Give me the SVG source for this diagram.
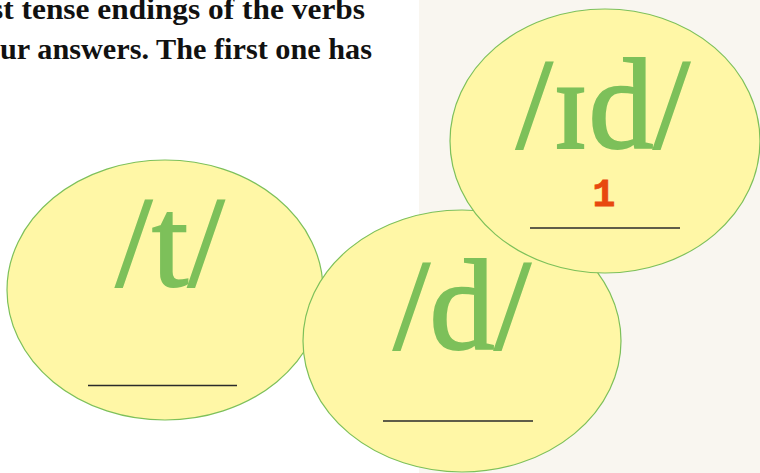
<svg xmlns="http://www.w3.org/2000/svg" width="760" height="473" viewBox="0 0 760 473">
  <style>
    .bubble { fill: #fff7a6; stroke: #7dc05a; stroke-width: 1.2; }
    .ipa { font-family: "Liberation Serif", "Times New Roman", serif; font-size: 130px; fill: #7dc05a; stroke: #7dc05a; stroke-width: 2; text-anchor: middle; }
    .blank { stroke: #2a2a2a; stroke-width: 1.4; }
    .head { font-family: "Liberation Serif", "Times New Roman", serif; font-weight: bold; font-size: 30px; fill: #111; }
    .ans { font-family: "Liberation Mono", "Courier New", monospace; font-weight: bold; font-size: 38px; fill: #e8480f; stroke: #e8480f; stroke-width: 0.8; text-anchor: middle; }
  </style>
  <rect x="0" y="0" width="760" height="473" fill="#ffffff"/>
  <rect x="419" y="0" width="341" height="473" fill="#f9f6f0"/>
  <g id="heading">
    <text class="head" x="-9" y="19" textLength="374" lengthAdjust="spacingAndGlyphs">st tense endings of the verbs</text>
    <text class="head" x="0" y="59" textLength="372" lengthAdjust="spacingAndGlyphs">ur answers. The first one has</text>
  </g>
  <g id="connectors"></g>
  <g id="node-t">
    <ellipse class="bubble" cx="165" cy="290" rx="158" ry="130"/>
    <text class="ipa" x="170" y="286">/t/</text>
    <line class="blank" x1="88" y1="385.5" x2="237" y2="385.5"/>
  </g>
  <g id="node-d">
    <ellipse class="bubble" cx="462" cy="341" rx="159" ry="131"/>
    <text class="ipa" x="462" y="349">/d/</text>
    <line class="blank" x1="383" y1="421" x2="533" y2="421"/>
  </g>
  <g id="node-id">
    <ellipse class="bubble" cx="605" cy="141" rx="155" ry="132"/>
    <text class="ipa" x="603" y="148">/ɪd/</text>
    <text class="ans" x="604" y="206">1</text>
    <line class="blank" x1="530" y1="228" x2="680" y2="228"/>
  </g>
</svg>
